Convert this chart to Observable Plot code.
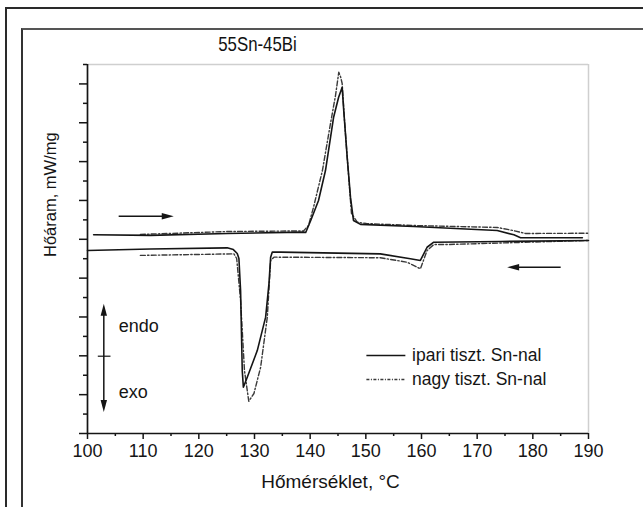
<!DOCTYPE html>
<html>
<head>
<meta charset="utf-8">
<script src="https://cdn.jsdelivr.net/npm/d3@7"></script>
<script src="https://cdn.jsdelivr.net/npm/@observablehq/plot@0.6"></script>
<style>
  html, body { margin: 0; padding: 0; background: #fff; }
  #wrap { position: relative; width: 643px; height: 507px; overflow: hidden; font-family: "Liberation Sans", Arial, sans-serif; }
  #outer { position: absolute; left: 5px; top: 7px; right: -4px; bottom: -4px; border-top: 2px solid #2a2a2a; border-left: 2px solid #2a2a2a; }
  #inner { position: absolute; left: 21px; top: 28px; right: -4px; bottom: -4px; border-top: 2px solid #555; border-left: 2px solid #333; }
  #chart { position: absolute; left: 0; top: 0; }
  #title { position: absolute; left: 0; width: 515px; top: 33px; text-align: center; font-size: 21px; line-height: 21px; color: #111; transform: scaleX(0.8); transform-origin: 257.5px 0; }
</style>
</head>
<body>
<div id="wrap">
  <div id="outer"></div>
  <div id="inner"></div>
  <div id="chart"></div>
  <div id="title">55Sn-45Bi</div>
</div>
<script>
// ---- Data (temperature °C, heat flow in arbitrary units) ----
const solidHeatT = [101.1, 111.3, 125.1, 138.8, 139.2, 140.1, 141.5, 142.75, 144.2, 145.1, 145.75, 145.99, 146.65, 147.24, 147.78, 149.04, 158.6, 173.6, 176.6, 177.8, 188.9];
const solidHeatV = [10.23, 10.20, 10.30, 10.37, 10.35, 10.97, 12.0, 13.54, 16.27, 17.30, 17.83, 16.79, 14.23, 12.17, 10.97, 10.77, 10.66, 10.45, 10.23, 10.08, 10.08];

const dashHeatT = [109.5, 125.1, 138.8, 139.7, 140.6, 142.2, 143.65, 144.55, 145.14, 145.45, 145.75, 146.17, 146.65, 147.42, 148.45, 150.1, 158.6, 173.6, 176.5, 178.7, 190.05];
const dashHeatV = [10.25, 10.40, 10.43, 10.71, 11.65, 13.54, 15.96, 17.40, 18.60, 18.38, 18.02, 16.12, 14.23, 11.33, 10.88, 10.81, 10.71, 10.61, 10.45, 10.30, 10.31];

const solidCoolT = [100.0, 111.3, 125.1, 126.2, 126.9, 127.2, 127.5, 127.8, 128.0, 128.7, 130.5, 132.0, 132.6, 132.9, 133.2, 134.7, 152.6, 158.0, 159.8, 160.4, 161.0, 162.2, 174.2, 190.0];
const solidCoolV = [9.42, 9.50, 9.56, 9.47, 9.27, 9.01, 7.36, 3.24, 2.38, 2.90, 4.27, 5.99, 7.72, 9.08, 9.34, 9.34, 9.25, 9.00, 8.91, 9.25, 9.59, 9.85, 9.89, 9.94];

const dashCoolT = [109.5, 126.3, 126.8, 127.5, 128.2, 128.97, 129.9, 131.1, 132.3, 132.9, 133.5, 152.6, 157.4, 159.8, 161.0, 162.2, 164.6, 190.05];
const dashCoolV = [9.17, 9.25, 9.01, 6.85, 3.24, 1.66, 2.06, 3.41, 5.99, 8.91, 9.08, 9.05, 8.82, 8.48, 9.42, 9.73, 9.73, 9.94];

// axis ticks
const xMajorTicks = [100, 110, 120, 130, 140, 150, 160, 170, 180, 190];
const xMinorTicks = [105, 115, 125, 135, 145, 155, 165, 175, 185];
const yMajorTicks = [0, 2, 4, 6, 8, 10, 12, 14, 16, 18];
const yMinorTicks = [1, 3, 5, 7, 9, 11, 13, 15, 17, 19];

// texts
const seriesNames = ["ipari tiszt. Sn-nal", "nagy tiszt. Sn-nal"];
const xLabel = "Hőmérséklet, °C";
const yLabel = "Hőáram, mW/mg";

// annotations (data coordinates)
const dirArrowLines = [
  {x1: 105.6, x2: 114.6, y1: 11.19, y2: 11.19},
  {x1: 176.6, x2: 185.0, y1: 8.56, y2: 8.56},
  {x1: 102.93, x2: 102.93, y1: 6.4, y2: 1.4}
];
const arrowHeads = [
  {x: 114.42, y: 11.19, rot: 0},
  {x: 176.46, y: 8.56, rot: 180},
  {x: 102.93, y: 6.37, rot: -90},
  {x: 102.93, y: 1.41, rot: 90}
];
const endoExoTick = [{x1: 101.85, x2: 104.13, y: 3.98}];
const endoExoText = [{x: 105.62, y: 5.51, text: "endo"}, {x: 105.62, y: 2.13, text: "exo"}];
const legendSolid = [{x1: 150.1, x2: 157.1, tx: 158.3, y: 4.02, name: seriesNames[0]}];
const legendDash = [{x1: 150.1, x2: 157.1, tx: 158.3, y: 2.78, name: seriesNames[1]}];

const toRows = (T, V) => T.map((t, i) => ({t, v: V[i]}));
const solidHeat = toRows(solidHeatT, solidHeatV);
const dashHeat = toRows(dashHeatT, dashHeatV);
const solidCool = toRows(solidCoolT, solidCoolV);
const dashCool = toRows(dashCoolT, dashCoolV);

const headSymbol = {
  draw(ctx) {
    ctx.moveTo(6, 0);
    ctx.lineTo(-6, -3.2);
    ctx.lineTo(-6, 3.2);
    ctx.closePath();
  }
};

const ink = "#151515";
const dashInk = "#3a3a3a";
const dashPattern = "5,2.2,1.4,2.2";

const chart = Plot.plot({
  width: 643,
  height: 507,
  marginLeft: 87,
  marginRight: 55,
  marginTop: 64,
  marginBottom: 74,
  style: {fontFamily: "'Liberation Sans', Arial, sans-serif", background: "transparent", color: ink},
  x: {domain: [100, 190]},
  y: {domain: [0, 19]},
  marks: [
    Plot.ruleY([19], {stroke: "#cfcfcf", strokeWidth: 1.5}),
    Plot.ruleX([190], {stroke: "#cfcfcf", strokeWidth: 1.5}),
    Plot.axisX(xMajorTicks, {tickSize: 6, tickPadding: 5, fontSize: 18, label: null, stroke: ink, strokeWidth: 1.5, tickFormat: d => d, fill: ink}),
    Plot.axisX(xMinorTicks, {tickSize: 3, label: null, stroke: ink, strokeWidth: 1.5, tickFormat: () => ""}),
    Plot.axisY(yMajorTicks, {tickSize: 8, label: null, stroke: ink, strokeWidth: 1.5, tickFormat: () => ""}),
    Plot.axisY(yMinorTicks, {tickSize: 4, label: null, stroke: ink, strokeWidth: 1.5, tickFormat: () => ""}),
    Plot.ruleX([100], {stroke: ink, strokeWidth: 1.7}),
    Plot.ruleY([0], {stroke: ink, strokeWidth: 1.7}),
    // curves
    Plot.line(dashHeat, {x: "t", y: "v", stroke: dashInk, strokeWidth: 1.4, strokeDasharray: dashPattern}),
    Plot.line(dashCool, {x: "t", y: "v", stroke: dashInk, strokeWidth: 1.4, strokeDasharray: dashPattern}),
    Plot.line(solidHeat, {x: "t", y: "v", stroke: ink, strokeWidth: 1.6}),
    Plot.line(solidCool, {x: "t", y: "v", stroke: ink, strokeWidth: 1.6}),
    // direction arrows
    Plot.link(dirArrowLines, {x1: "x1", x2: "x2", y1: "y1", y2: "y2", stroke: ink, strokeWidth: 1.5}),
    Plot.dot(arrowHeads, {x: "x", y: "y", rotate: "rot", symbol: headSymbol, fill: ink, stroke: "none", r: 4}),
    Plot.link(endoExoTick, {x1: "x1", x2: "x2", y1: "y", y2: "y", stroke: ink, strokeWidth: 1.2}),
    Plot.text(endoExoText, {x: "x", y: "y", text: "text", textAnchor: "start", fontSize: 18, fill: ink}),
    // legend
    Plot.link(legendSolid, {x1: "x1", x2: "x2", y1: "y", y2: "y", stroke: ink, strokeWidth: 1.5}),
    Plot.link(legendDash, {x1: "x1", x2: "x2", y1: "y", y2: "y", stroke: dashInk, strokeWidth: 1.4, strokeDasharray: "3,1.5,1,1.5"}),
    Plot.text(legendSolid, {x: "tx", y: "y", text: "name", textAnchor: "start", fontSize: 17.5, fill: ink}),
    Plot.text(legendDash, {x: "tx", y: "y", text: "name", textAnchor: "start", fontSize: 17.5, fill: ink}),
    // axis titles
    Plot.text([xLabel], {frameAnchor: "bottom", dy: 54, dx: -7.5, fontSize: 19, fill: ink}),
    Plot.text([yLabel], {frameAnchor: "left", rotate: -90, dx: -37, dy: 8, fontSize: 16.5, fill: ink})
  ]
});
document.getElementById("chart").appendChild(chart);
</script>
</body>
</html>
